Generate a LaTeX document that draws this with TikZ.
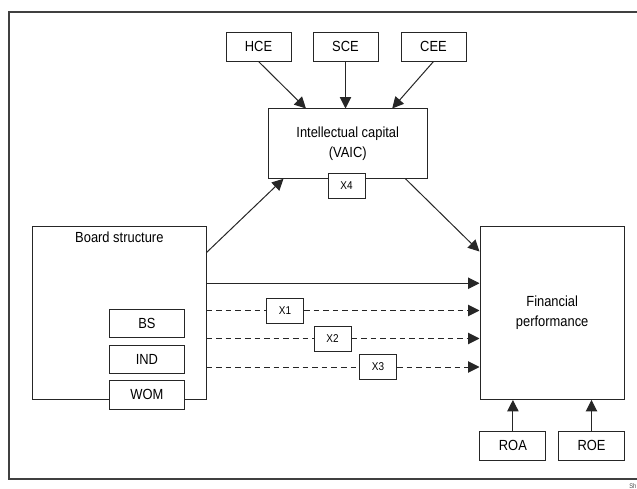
\documentclass[tikz,border=0pt]{standalone}
\usepackage{fontspec}
\setmainfont{Liberation Sans}[FakeStretch=0.88]
\usetikzlibrary{arrows.meta}

\tikzset{
  box/.style={draw=black!85, fill=white, line width=0.75pt, inner sep=0pt, font=\fontsize{11}{15}\selectfont},
  xbox/.style={box, minimum width=27.75pt, minimum height=18.75pt, font=\fontsize{8.5}{10}\selectfont},
  arr/.style={-{Triangle[length=8.5pt,width=8.5pt]}, line width=0.75pt, draw=black!85},
  dsh/.style={line width=0.75pt, draw=black!85, dash pattern=on 4.2pt off 3pt},
  dsharr/.style={arr, dash pattern=on 4.2pt off 3pt},
}

\begin{document}
\begin{tikzpicture}[x=0.75pt,y=-0.75pt]
  \useasboundingbox (0,0) rectangle (637,489);
  \draw[line width=0.9pt, black!75] (640,12) -- (9,12) -- (9,479) -- (640,479);
  \node[anchor=west, inner sep=0pt, font=\fontsize{5}{5}\selectfont, text=black!70] (SRC) at (629,486) {Sh};

  % inputs of VAIC
  \foreach \x\y in {258.5/HCE,345.5/SCE,433.5/CEE} {
    \node[box, minimum width=48.75pt, minimum height=21.75pt] (\y) at (\x,46.5) {\y};
  }
  \node[box, minimum width=118.9pt, minimum height=52pt, align=center] (IC) at (347.75,143.65) {Intellectual capital\\(VAIC)};
  \node[xbox] (X4) at (346.5,186) {X4};

  \draw[arr] (HCE.south) -- ([shift={(38,0)}]IC.north west);
  \draw[arr] (SCE.south) -- (SCE.south |- IC.north);
  \draw[arr] (CEE.south) -- ([shift={(-35.3,0)}]IC.north east);

  % board structure
  \node[box, minimum width=130pt, minimum height=130.1pt] (BOARD) at (119.35,312.75) {};
  \node[inner sep=0pt, font=\fontsize{11}{15}\selectfont] (BOARDLBL) at ([shift={(0,11.7)}]BOARD.north) {Board structure};
  \foreach \x\y in {323.5/BS,359.2/IND,394.9/WOM} {
    \node[box, minimum width=56.1pt, minimum height=21.3pt] (\y) at (146.9,\x) {\y};
  }

  % financial performance
  \node[box, minimum width=108.3pt, minimum height=130.1pt, align=center] (FIN) at (552.2,312.75) {Financial\\performance};
  \foreach \x\y in {512.9/ROA,591.5/ROE} {
    \node[box, minimum width=49.5pt, minimum height=21.75pt] (\y) at (\x,445.5) {\y};
    \draw[arr] (\y.north) -- (\y.north |- FIN.south);
  }

  \draw[arr] ([shift={(0,27)}]BOARD.north east) -- ([shift={(15.5,0)}]IC.south west);
  \draw[arr] ([shift={(-22,0)}]IC.south east) -- ([shift={(0,26)}]FIN.north west);
  \draw[arr] ([shift={(0,-29.5)}]BOARD.east) -- ([shift={(0,-29.5)}]FIN.west);

  % moderated paths
  \foreach \x\y\z in {285/310.5/X1,332.5/338.5/X2,378/367/X3} {
    \node[xbox] (\z) at (\x,\y) {\z};
    \draw[dsh] (BOARD.east |- \z.west) -- (\z.west);
    \draw[dsharr] (\z.east) -- (FIN.west |- \z.east);
  }
\end{tikzpicture}
\end{document}
